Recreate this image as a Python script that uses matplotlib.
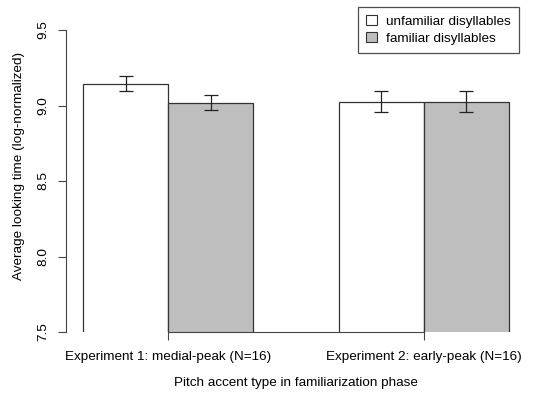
import matplotlib
matplotlib.use("Agg")
import matplotlib.pyplot as plt
from matplotlib.patches import Patch

plt.rcParams['font.family'] = ['Liberation Sans', 'DejaVu Sans']

# data
groups = ['Experiment 1: medial-peak (N=16)', 'Experiment 2: early-peak (N=16)']
series = ['unfamiliar disyllables', 'familiar disyllables']
unfamiliar = [9.145, 9.025]
familiar = [9.017, 9.025]
unfamiliar_err = [0.05, 0.068]
familiar_err = [0.05, 0.068]
colors = ['white', '#bebebe']

fs = 9.7

fig = plt.figure(figsize=(5.49, 3.94), dpi=100)
ax = fig.add_axes([66 / 549, (394 - 332) / 394, (526 - 66) / 549, 332 / 394])

# R-style beside barplot: bars at 1-2, 2-3 | 4-5, 5-6
x1 = [1.5, 4.5]
x2 = [2.5, 5.5]
ax.bar(x1, unfamiliar, width=1, bottom=0, color=colors[0], edgecolor='#333333', linewidth=0.9)
ax.bar(x2, familiar, width=1, bottom=0, color=colors[1], edgecolor='#333333', linewidth=0.9)
ax.errorbar(x1, unfamiliar, yerr=unfamiliar_err, fmt='none', ecolor='#222222', elinewidth=0.9, capsize=5, capthick=0.9)
ax.errorbar(x2, familiar, yerr=familiar_err, fmt='none', ecolor='#222222', elinewidth=0.9, capsize=5, capthick=0.9)

ax.set_xlim(0.8, 6.2)
ax.set_ylim(7.5, 9.5 + 30 / 151)

for s in ['top', 'right']:
    ax.spines[s].set_visible(False)
ax.spines['left'].set_bounds(7.5, 9.5)
ax.spines['left'].set_color('#444444')
ax.spines['bottom'].set_bounds(2, 5)
ax.spines['bottom'].set_color('#444444')

ax.set_yticks([7.5, 8.0, 8.5, 9.0, 9.5])
ax.set_yticklabels(['7.5', '8.0', '8.5', '9.0', '9.5'], rotation=90, va='center', fontsize=fs)
ax.set_xticks([2, 5])
ax.set_xticklabels(groups, fontsize=fs)
ax.tick_params(axis='both', length=6, width=0.8, color='#444444', pad=6)
ax.tick_params(axis='x', pad=8)

ax.set_ylabel('Average looking time (log-normalized)', fontsize=fs, labelpad=9)
ax.set_xlabel('Pitch accent type in familiarization phase', fontsize=fs, labelpad=10)

handles = [Patch(facecolor=c, edgecolor='#333333', linewidth=0.8) for c in colors]
leg = ax.legend(handles, series, loc='upper right', bbox_to_anchor=(519 / 549, (394 - 7) / 394),
                bbox_transform=fig.transFigure,
                fontsize=fs, frameon=True, fancybox=False, handlelength=0.8, handleheight=0.8,
                borderpad=0.6, labelspacing=0.3, handletextpad=0.7, borderaxespad=0)
leg.get_frame().set_edgecolor('#222222')
leg.get_frame().set_linewidth(0.9)

fig.savefig('out.png', dpi=100)
